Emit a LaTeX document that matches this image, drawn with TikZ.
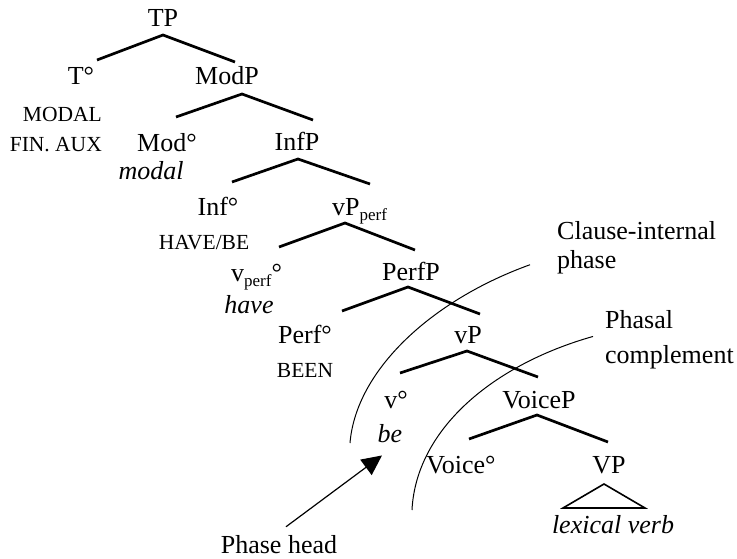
\documentclass[tikz,border=0pt]{standalone}
\usepackage{fontspec}
\setmainfont{Liberation Serif}
\usetikzlibrary{arrows.meta}
\newcommand\lowsub[1]{\raisebox{-0.22em}{\fontsize{17}{17}\selectfont #1}}
\begin{document}
\begin{tikzpicture}[x=1pt,y=-1pt,
  lab/.style={anchor=base, inner sep=0pt, font=\fontsize{26}{30}\selectfont},
  feat/.style={anchor=base, inner sep=0pt, font=\fontsize{21.5}{25}\selectfont},
  note/.style={anchor=base west, inner sep=0pt, font=\fontsize{26}{30}\selectfont},
  branch/.style={line width=2.7pt, line join=miter},
  phasearc/.style={line width=1pt},
  pointer/.style={line width=1.2pt, -{Triangle[length=20pt,width=19pt]}}]
\useasboundingbox (0,0) rectangle (737,559);

% tree labels
\node[lab] (tp) at (163,27) {TP};
\node[lab] (t) at (81,85) {T°};
\node[lab] (modp) at (227,85) {ModP};
\node[feat, anchor=base east] (modalfeat) at (102,122) {MODAL};
\node[feat, anchor=base east] (finaux) at (102,152) {FIN. AUX};
\node[lab] (mod) at (167,152) {Mod°};
\node[lab] (modal) at (151,180) {\itshape modal};
\node[lab] (infp) at (297,151) {InfP};
\node[lab] (inf) at (218,215) {Inf°};
\node[feat] (havebe) at (204,250) {HAVE/BE};
\node[lab, anchor=base west] (vpperf) at (332,215) {vP\lowsub{perf}};
\node[lab, anchor=base west] (vperf) at (231,281) {v\lowsub{perf}°};
\node[lab] (have) at (249,313) {\itshape have};
\node[lab] (perfp) at (411,280) {PerfP};
\node[lab] (perf) at (305,343) {Perf°};
\node[feat] (been) at (305,377) {BEEN};
\node[lab] (vp) at (468,343) {vP};
\node[lab] (v) at (396,408) {v°};
\node[lab] (be) at (390,442) {\itshape be};
\node[lab] (voicep) at (539,408) {VoiceP};
\node[lab] (voice) at (461,473) {Voice°};
\node[lab] (vpl) at (609,473) {VP};
\node[lab] (lex) at (613,533) {\itshape lexical verb};

% branches
\draw[branch] (97,60) -- (163,35) -- (235,62);
\draw[branch] (176,117) -- (242,94) -- (313,120);
\draw[branch] (232,182) -- (298,159) -- (370,184);
\draw[branch] (279,247) -- (345,223) -- (415,250);
\draw[branch] (342,311) -- (408,287) -- (480,314);
\draw[branch] (400,373) -- (467,351) -- (538,377);
\draw[branch] (469,439) -- (537,415) -- (608,442);
\draw[line width=1.6pt] (563,508) -- (604,484) -- (645,508) -- cycle;

% annotations
\node[note] (ci1) at (557,240) {Clause-internal};
\node[note] (ci2) at (557,268) {phase};
\node[note] (pc1) at (605,328) {Phasal};
\node[note] (pc2) at (605,363) {complement};
\node[lab] (ph) at (279,553) {Phase head};

\coordinate (ciend) at (350,443);
\coordinate (pcend) at (412,510);
\draw[phasearc] ([shift={(-27,3)}]ci2.west) .. controls (432,300) and (356,370) .. (ciend);
\draw[phasearc] ([shift={(-12,8)}]pc1.south west) .. controls (492,365) and (416,430) .. (pcend);
\draw[pointer] ([shift={(7,-8)}]ph.north) -- ([shift={(-8,13)}]be.south);
\end{tikzpicture}
\end{document}
